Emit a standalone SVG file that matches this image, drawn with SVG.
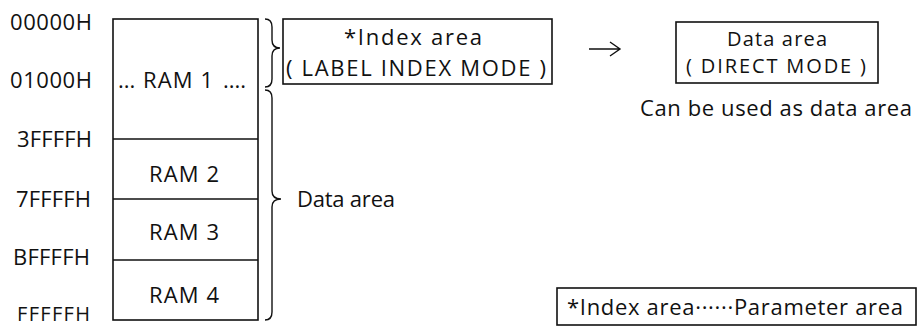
<svg xmlns="http://www.w3.org/2000/svg" width="921" height="327" viewBox="0 0 921 327">
<style>
text{font-family:"Open Sans","Noto Sans","Liberation Sans",sans-serif;font-size:22px;fill:#111}
.box{fill:none;stroke:#111;stroke-width:1.6}
.ln{fill:none;stroke:#111;stroke-width:1.4}
.addr{text-anchor:end}
.c{text-anchor:middle}
.s{font-size:20px}
</style>
<rect width="921" height="327" fill="#fff"/>
<g id="addresses">
<text class="addr" x="92" y="30" textLength="82" lengthAdjust="spacing">00000H</text>
<text class="addr" x="92" y="88" textLength="82" lengthAdjust="spacing">01000H</text>
<text class="addr" x="92" y="147" textLength="75" lengthAdjust="spacing">3FFFFH</text>
<text class="addr" x="91" y="207" textLength="75" lengthAdjust="spacing">7FFFFH</text>
<text class="addr" x="90" y="265" textLength="77" lengthAdjust="spacing">BFFFFH</text>
<text class="addr s" x="90" y="321" textLength="73" lengthAdjust="spacing">FFFFFH</text>
</g>
<g id="memory">
<rect class="box" x="113" y="19" width="145" height="301"/>
<line class="ln" x1="113" y1="139" x2="258" y2="139"/>
<line class="ln" x1="113" y1="199" x2="258" y2="199"/>
<line class="ln" x1="113" y1="260" x2="258" y2="260"/>
<text x="118" y="88">...</text>
<text class="c" x="178" y="88" textLength="70" lengthAdjust="spacing">RAM 1</text>
<text x="223" y="88">....</text>
<text class="c" x="184" y="182" textLength="70" lengthAdjust="spacing">RAM 2</text>
<text class="c" x="184" y="240" textLength="70" lengthAdjust="spacing">RAM 3</text>
<text class="c" x="184" y="303" textLength="70" lengthAdjust="spacing">RAM 4</text>
</g>
<g id="connectors">
<path class="ln" d="M265,19 Q272,19 272,27 L272,40 Q272,48 280,48 Q272,48 272,56 L272,79 Q272,87 265,87"/>
<path class="ln" d="M265,90 Q272,90 272,98 L272,191 Q272,199 281,199 Q272,199 272,207 L272,312 Q272,320 265,320"/>
<path class="ln" d="M589,49 L619,49 M610,42 L620,49 L610,56"/>
</g>
<g id="index-area">
<rect class="box" x="283" y="19" width="269" height="65"/>
<text class="c" x="413" y="45" textLength="138" lengthAdjust="spacing">*Index area</text>
<text class="c" x="416" y="76" textLength="260" lengthAdjust="spacing">( LABEL INDEX MODE )</text>
</g>
<g id="data-area-direct">
<rect class="box" x="676" y="22" width="202" height="61"/>
<text class="c s" x="777" y="46" textLength="100" lengthAdjust="spacing">Data area</text>
<text class="c s" x="776" y="73" textLength="180" lengthAdjust="spacing">( DIRECT MODE )</text>
<text class="c" x="776" y="116" textLength="272" lengthAdjust="spacing">Can be used as data area</text>
</g>
<g id="data-area">
<text x="297" y="207" textLength="98" lengthAdjust="spacing">Data area</text>
</g>
<g id="note">
<rect class="box" x="557" y="288" width="359" height="37"/>
<text x="567" y="315" textLength="336" lengthAdjust="spacing">*Index area······Parameter area</text>
</g>
</svg>
